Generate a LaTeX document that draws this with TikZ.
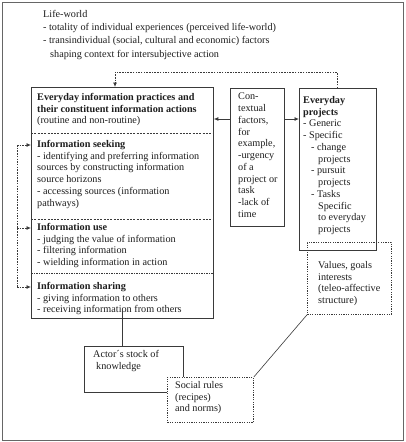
\documentclass[tikz,border=0pt]{standalone}
\usepackage{fontspec}
\setmainfont{Liberation Serif}
\usetikzlibrary{arrows.meta}
\definecolor{ink}{HTML}{1E1E1E}
\definecolor{lin}{HTML}{3A3A3A}
\begin{document}
\begin{tikzpicture}[x=1pt,y=-1pt,
  box/.style={draw=lin,line width=0.8pt,rectangle,inner sep=0pt,anchor=north west},
  dotbox/.style={box,dash pattern=on 1.2pt off 1.2pt},
  txt/.style={anchor=north west,inner sep=0pt,align=left,text=ink,font=\fontsize{10.2}{11.75}\selectfont},
  lifetxt/.style={txt,font=\fontsize{10.2}{13.3}\selectfont},
  con/.style={draw=lin,line width=0.8pt},
  dcon/.style={con,dash pattern=on 1.5pt off 1.2pt},
  arr/.style={-{Latex[length=4.5pt,width=4pt]}},
  sep/.style={draw=lin,line width=0.7pt,dash pattern=on 2pt off 1.3pt}]
\useasboundingbox (0,0) rectangle (405,442);
\fill[white] (0,0) rectangle (405,442);
% outer frame
\node[box,draw=gray!80!black,line width=1.1pt,minimum width=401pt,minimum height=438pt] (frame) at (2,2) {};
% life-world text
\node[lifetxt] (life) at (43,10) {Life-world\\
- totality of individual experiences (perceived life-world)\\
- transindividual (social, cultural and economic) factors\\
\hspace*{7pt}shaping context for intersubjective action};
% boxes
\node[dotbox,minimum width=84pt,minimum height=72pt] (values) at (307,242) {};
\node[box,minimum width=182pt,minimum height=231pt] (main) at (31,87) {};
\node[box,minimum width=54pt,minimum height=138pt] (ctx) at (230,88) {};
\node[box,minimum width=77pt,minimum height=162pt] (proj) at (299,88) {};
\node[box,minimum width=99pt,minimum height=46pt] (actor) at (84,346) {};
\node[dotbox,fill=white,minimum width=86pt,minimum height=45pt] (social) at (167,377) {};
% separators in main box
\draw[sep] (main.west |- 0,133) -- (main.east |- 0,133);
\draw[sep] (main.west |- 0,219) -- (main.east |- 0,219);
\draw[sep,dash pattern=on 2pt off 1.2pt on 0.6pt off 1.2pt] (main.west |- 0,273) -- (main.east |- 0,273);
% texts
\node[txt] (hdr) at (37,93) {\textbf{Everyday information practices and}\\
\textbf{their constituent information actions}\\
(routine and non-routine)};
\node[txt] (seek) at (37,140) {\textbf{Information seeking}\\
- identifying and preferring information\\
sources by constructing information\\
source horizons\\
- accessing sources (information\\
pathways)};
\node[txt] (use) at (37,223) {\textbf{Information use}\\
- judging the value of information\\
- filtering information\\
- wielding information in action};
\node[txt] (share) at (37,282) {\textbf{Information sharing}\\
- giving information to others\\
- receiving information from others};
\node[txt] (ctxt) at (238,93) {Con-\\textual\\factors,\\for\\example,\\-urgency\\of a\\project or\\task\\-lack of\\time};
\node[txt] (projt) at (303,96) {\textbf{Everyday}\\\textbf{projects}\\
- Generic\\- Specific\\
\hspace*{8pt}- change\\\hspace*{15pt}projects\\
\hspace*{8pt}- pursuit\\\hspace*{15pt}projects\\
\hspace*{8pt}- Tasks\\\hspace*{15pt}Specific\\\hspace*{15pt}to everyday\\\hspace*{15pt}projects};
\node[txt] (valt) at (318,261) {Values, goals\\interests\\(teleo-affective\\structure)};
\node[txt] (actt) at (93,350) {Actor´s stock of\\\hspace*{3pt}knowledge};
\node[txt] (socialt) at (175,381) {Social rules\\(recipes)\\and norms)};
% connectors
\coordinate (row) at (0,119);
\draw[con,arr] (ctx.west |- row) -- (main.east |- row);
\draw[con,arr] (ctx.east |- row) -- (proj.west |- row);
\coordinate (topturn) at (337,72);
\coordinate (topleft) at (115,72);
\draw[dcon,arr] (proj.north -| topturn) -- (topturn) -- (topleft) -- (main.north -| topleft);
\coordinate (l1) at (17,145);
\coordinate (l2) at (17,228);
\coordinate (l3) at (17,287);
\draw[dcon] (l1) -- (l3);
\draw[dcon,arr] (l1) -- (main.west |- l1);
\draw[dcon,arr] (l2) -- (main.west |- l2);
\draw[dcon,arr] (l3) -- (main.west |- l3);
\coordinate (sharefoot) at (122,310);
\draw[con] (sharefoot) -- (actor.north -| sharefoot);
\draw[con,line width=0.6pt] (social.north east) -- (values.south west);
\end{tikzpicture}
\end{document}
